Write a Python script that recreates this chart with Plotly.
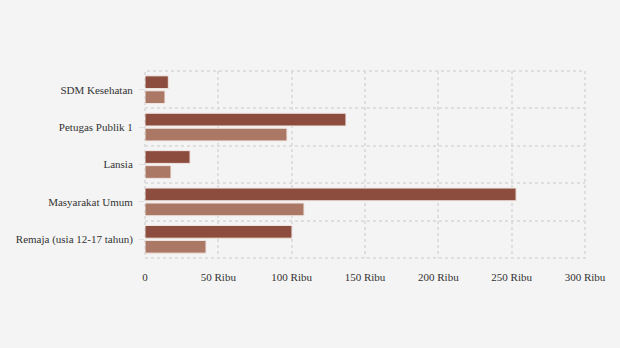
import plotly.graph_objects as go

categories = ["SDM Kesehatan", "Petugas Publik 1", "Lansia", "Masyarakat Umum", "Remaja (usia 12-17 tahun)"]
dose1 = [15900, 137000, 30700, 253000, 100200]
dose2 = [13600, 96800, 17700, 108400, 41600]
series_names = ["Dosis 1", "Dosis 2"]
x_tickvals = [0, 50000, 100000, 150000, 200000, 250000, 300000]
x_ticktext = ["0", "50 Ribu", "100 Ribu", "150 Ribu", "200 Ribu", "250 Ribu", "300 Ribu"]

pos = list(range(len(categories)))
BG = "#f4f4f4"
FONT = "Liberation Serif"
GRID = "#dedede"
DASH = "3px,3px"

fig = go.Figure()
fig.add_trace(go.Bar(y=pos, x=dose1, orientation="h", name=series_names[0],
                     marker=dict(color="#8d4d3e", line=dict(color="#f0e6e2", width=1))))
fig.add_trace(go.Bar(y=pos, x=dose2, orientation="h", name=series_names[1],
                     marker=dict(color="#aa7865", line=dict(color="#f0e6e2", width=1))))

fig.add_shape(type="rect", xref="paper", yref="paper", x0=0, x1=1, y0=0, y1=1,
              line=dict(color=GRID, width=2, dash=DASH), layer="below")

fig.update_layout(
    width=620, height=348,
    paper_bgcolor=BG, plot_bgcolor=BG,
    margin=dict(l=145, r=35, t=71, b=90),
    barmode="group", bargap=0.2, bargroupgap=0.15,
    showlegend=False,
    font=dict(family=FONT, size=11, color="#333"),
    xaxis=dict(range=[0, 300000], tickvals=x_tickvals, ticktext=x_ticktext,
               showgrid=True, gridcolor=GRID, griddash=DASH, gridwidth=2,
               zeroline=False, showline=False,
               ticks="outside", ticklen=9, tickcolor=BG,
               tickfont=dict(family=FONT, size=11, color="#333")),
    yaxis=dict(range=[len(categories) - 0.5, -0.5], tickvals=pos, ticktext=categories,
               showgrid=False, zeroline=False, showline=False,
               ticks="outside", ticklen=5, tickcolor="#e0e0e0",
               ticklabelstandoff=4,
               minor=dict(tickmode="linear", tick0=0.5, dtick=1, showgrid=True,
                          gridcolor=GRID, griddash=DASH, gridwidth=2, ticks=""),
               tickfont=dict(family=FONT, size=11, color="#333")),
)

fig.write_html("out.html")
